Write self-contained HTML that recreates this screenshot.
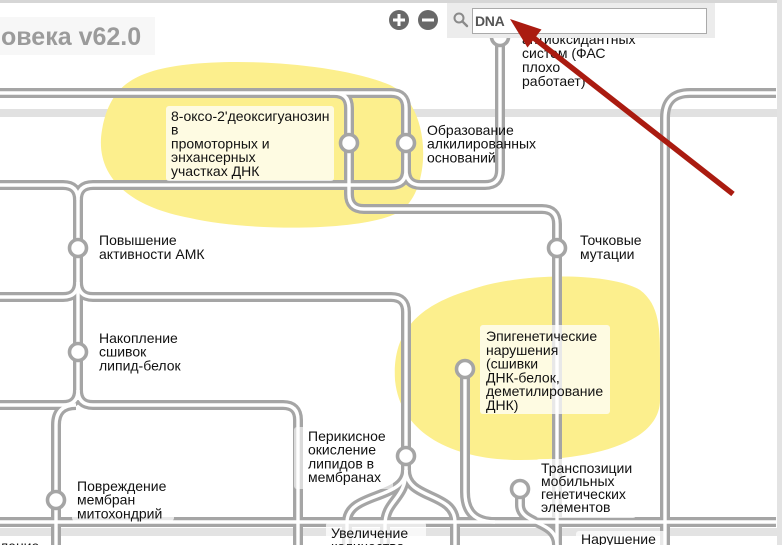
<!DOCTYPE html>
<html><head><meta charset="utf-8"><style>
html,body{margin:0;padding:0;background:#fff;}
svg{display:block;}
text{font-family:"Liberation Sans",Arial,sans-serif;}
</style></head><body>
<svg width="782" height="545" viewBox="0 0 782 545" xmlns="http://www.w3.org/2000/svg">
<rect x="0" y="0" width="782" height="545" fill="#fff"/>
<rect x="0" y="0" width="782" height="3" fill="#d6d6d6"/>
<rect x="0" y="109" width="782" height="8" fill="#e1e1e1"/>
<rect x="0" y="528" width="782" height="8" fill="#e3e3e3"/>
<rect x="777" y="0" width="5" height="545" fill="#e3e3e3"/>
<rect x="0" y="17" width="155" height="38" fill="#f7f7f7"/>

<path d="M150,72 C200,55 330,60 390,85 C432,105 432,188 402,210 C372,232 250,232 190,218 C120,205 95,170 102,130 C108,95 125,80 150,72 Z" fill="#fcef8d"/>
<path d="M470,290 C520,272 610,272 640,290 C660,305 660,330 660,360 L660,400 C660,440 600,460 520,460 C450,460 400,432 395,380 C392,330 420,305 470,290 Z" fill="#fcef8d"/>

<g fill="none" stroke-linecap="butt">
<g stroke="#a5a5a5" stroke-width="10">
<path d="M-10,93 L334,93 Q349,93 349,108 L349,194 Q349,209 364,209 L542,209 Q557,209 557,224 L557,550"/>
<path d="M330,93 L391,93 Q406,93 406,108 L406,170 Q406,185 421,185 L485,185 Q500,185 500,170 L500,30"/>
<path d="M406,160 L406,170 Q406,185 391,185 L93,185 Q78,185 78,200 L78,400"/>
<path d="M-10,185 L63,185 Q78,185 78,200"/>
<path d="M-10,297 L63,297 Q78,297 78,282"/>
<path d="M78,282 Q78,297 93,297 L391,297 Q406,297 406,312 L406,476"/>
<path d="M-10,405 L63,405 Q78,405 78,390"/>
<path d="M78,390 Q78,405 93,405 L283,405 Q298,405 298,420 L298,550"/>
<path d="M56,550 L56,425 Q56,405 76,405"/>
<path d="M406,470 C406,500 347,492 347,522 L347,550"/>
<path d="M406,470 C406,500 385,500 385,525 L385,550"/>
<path d="M406,470 C406,500 455,492 455,522 L455,550"/>
<path d="M465,370 L465,492 Q465,522 495,522"/>
<path d="M-10,522 L776,522"/>
<path d="M520,490 L520,505 C520,525 557,520 557,545"/>
<path d="M776,93 L690,93 Q665,93 665,118 L665,550"/>
</g>
<g stroke="#fff" stroke-width="3.4">
<path d="M-10,93 L334,93 Q349,93 349,108 L349,194 Q349,209 364,209 L542,209 Q557,209 557,224 L557,550"/>
<path d="M330,93 L391,93 Q406,93 406,108 L406,170 Q406,185 421,185 L485,185 Q500,185 500,170 L500,30"/>
<path d="M406,160 L406,170 Q406,185 391,185 L93,185 Q78,185 78,200 L78,400"/>
<path d="M-10,185 L63,185 Q78,185 78,200"/>
<path d="M-10,297 L63,297 Q78,297 78,282"/>
<path d="M78,282 Q78,297 93,297 L391,297 Q406,297 406,312 L406,476"/>
<path d="M-10,405 L63,405 Q78,405 78,390"/>
<path d="M78,390 Q78,405 93,405 L283,405 Q298,405 298,420 L298,550"/>
<path d="M56,550 L56,425 Q56,405 76,405"/>
<path d="M406,470 C406,500 347,492 347,522 L347,550"/>
<path d="M406,470 C406,500 385,500 385,525 L385,550"/>
<path d="M406,470 C406,500 455,492 455,522 L455,550"/>
<path d="M465,370 L465,492 Q465,522 495,522"/>
<path d="M-10,522 L776,522"/>
<path d="M520,490 L520,505 C520,525 557,520 557,545"/>
<path d="M776,93 L690,93 Q665,93 665,118 L665,550"/>
</g>
</g>

<g fill="#fff" fill-opacity="0.75">
<rect x="166" y="106" width="168" height="75" rx="3"/>
<rect x="480" y="325" width="130" height="89" rx="3"/>
<rect x="294" y="427" width="99" height="62" rx="3" fill-opacity="0.6"/>
<rect x="72" y="477" width="102" height="44" rx="3"/>
<rect x="536" y="459" width="100" height="59" rx="3"/>
<rect x="326" y="522" width="100" height="30" rx="3"/>
<rect x="576" y="531" width="90" height="20" rx="3"/>
</g>

<g fill="#fff" stroke="#a5a5a5" stroke-width="3.6">
<circle cx="500" cy="37" r="8.5"/>
<circle cx="349" cy="143" r="8.5"/>
<circle cx="406" cy="143" r="8.5"/>
<circle cx="78" cy="248" r="8.5"/>
<circle cx="557" cy="248" r="8.5"/>
<circle cx="78" cy="352" r="8.5"/>
<circle cx="465" cy="369" r="8.5"/>
<circle cx="406" cy="456" r="8.5"/>
<circle cx="56" cy="500" r="8.5"/>
<circle cx="520" cy="489" r="8.5"/>
</g>

<g font-size="14" fill="#111">
<text x="171" y="121"><tspan x="171">8-оксо-2'деоксигуанозин</tspan><tspan x="171" dy="13.7">в</tspan><tspan x="171" dy="13.7">промоторных и</tspan><tspan x="171" dy="13.7">энхансерных</tspan><tspan x="171" dy="13.7">участках ДНК</tspan></text>
<text x="427" y="135"><tspan x="427">Образование</tspan><tspan x="427" dy="13.7">алкилированных</tspan><tspan x="427" dy="13.7">оснований</tspan></text>
<text x="522" y="44"><tspan x="522">антиоксидантных</tspan><tspan x="522" dy="14">систем (ФАС</tspan><tspan x="522" dy="14">плохо</tspan><tspan x="522" dy="14">работает)</tspan></text>
<text x="99" y="245"><tspan x="99">Повышение</tspan><tspan x="99" dy="14">активности АМК</tspan></text>
<text x="580" y="245"><tspan x="580">Точковые</tspan><tspan x="580" dy="14">мутации</tspan></text>
<text x="99" y="343"><tspan x="99">Накопление</tspan><tspan x="99" dy="13.7">сшивок</tspan><tspan x="99" dy="13.7">липид-белок</tspan></text>
<text x="486" y="341"><tspan x="486">Эпигенетические</tspan><tspan x="486" dy="13.8">нарушения</tspan><tspan x="486" dy="13.8">(сшивки</tspan><tspan x="486" dy="13.8">ДНК-белок,</tspan><tspan x="486" dy="13.8">деметилирование</tspan><tspan x="486" dy="13.8">ДНК)</tspan></text>
<text x="308" y="441"><tspan x="308">Перикисное</tspan><tspan x="308" dy="13.7">окисление</tspan><tspan x="308" dy="13.7">липидов в</tspan><tspan x="308" dy="13.7">мембранах</tspan></text>
<text x="77" y="491"><tspan x="77">Повреждение</tspan><tspan x="77" dy="13.7">мембран</tspan><tspan x="77" dy="13.7">митохондрий</tspan></text>
<text x="541" y="473"><tspan x="541">Транспозиции</tspan><tspan x="541" dy="13">мобильных</tspan><tspan x="541" dy="13">генетических</tspan><tspan x="541" dy="13">элементов</tspan></text>
<text x="331" y="538"><tspan x="331">Увеличение</tspan><tspan x="331" dy="13.7">количества</tspan></text>
<text x="581" y="544">Нарушение</text>
<text x="0" y="551">ление</text>
</g>

<text x="1" y="45" font-size="25" font-weight="bold" fill="#9b9b9b">овека v62.0</text>

<rect x="447" y="3" width="268" height="35" fill="#ececec"/>
<rect x="472.5" y="8.5" width="234" height="25" fill="#fff" stroke="#aaa" stroke-width="1"/>
<text x="475" y="26" font-size="14" font-weight="bold" fill="#555" letter-spacing="-0.3">DNA</text>
<circle cx="459" cy="18" r="4.5" fill="none" stroke="#8a8a8a" stroke-width="2"/>
<line x1="462.3" y1="21.3" x2="467" y2="26" stroke="#8a8a8a" stroke-width="2.4" stroke-linecap="round"/>
<circle cx="399" cy="20" r="10" fill="#696969"/>
<rect x="393" y="18.5" width="12" height="3" fill="#fff"/>
<rect x="397.5" y="14" width="3" height="12" fill="#fff"/>
<circle cx="428" cy="20" r="10" fill="#696969"/>
<rect x="422" y="18.5" width="12" height="3" fill="#fff"/>

<line x1="733" y1="194" x2="530" y2="35" stroke="#aa1b10" stroke-width="5.5"/>
<polygon points="510,19 527.5,47.5 541.5,29.5" fill="#aa1b10"/>
</svg>
</body></html>
